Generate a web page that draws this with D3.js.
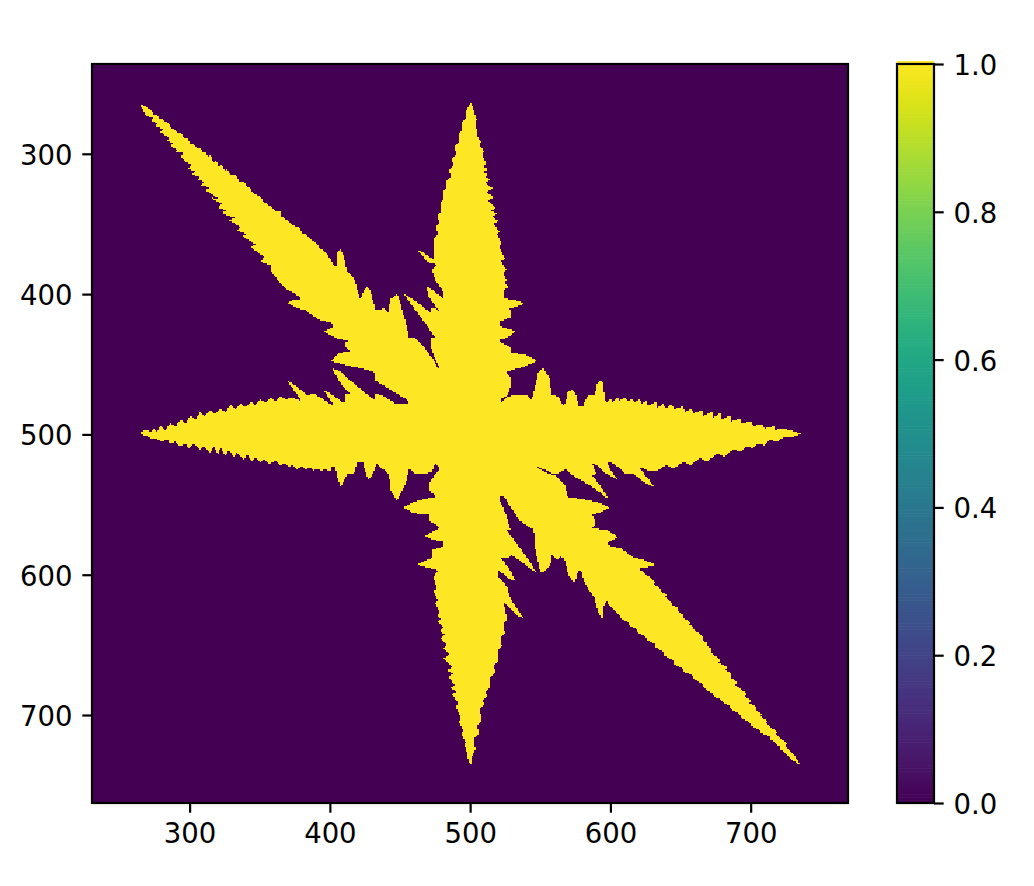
<!DOCTYPE html>
<meta charset="utf-8">
<style>
  body { margin: 0; background: #fff; }
  text { font-family: "DejaVu Sans"; }
</style>
<script src="https://d3js.org/d3.v7.min.js"></script>
<svg id="chart" width="1034" height="886"></svg>
<script>
// ticks
var xTicks = [300, 400, 500, 600, 700];
var yTicks = [300, 400, 500, 600, 700];
var cbarTicks = [0, 0.2, 0.4, 0.6, 0.8, 1];
var cellValues = [0, 1]; // background cells and crystal cells

// crystal outline in image coordinates, clockwise from the NW tip
var nwArmUpper = [[264,264],[268,266],[273,269],[274,271.5],[277,272],[278,274.5],[281.5,275.5],[282,277],[285,278],[286,280.5],[290,283.5],[291,284.5],[294.5,285.5],[296,288.5],[299,289],[300,292.5],[304,294],[306,296.5],[308,295.5],[309,299.5],[311,298.5],[313,302.5],[315,301],[317,306.5],[319,304],[321,310],[323,308],[325,312.5],[327,311],[329,315.5],[333,315],[335,319.5],[339,320.5],[341,323.5],[344,325],[345,328],[350.5,331],[353,334.5],[359,338],[362,341],[365,341.5],[365,344.5],[371,348],[373,350.5],[379,353],[380,356.5],[384,358],[386,360.5],[391,364.5],[393,367.5],[397,370],[400.5,375],[403,380]];
var nnwLobes = [[405,379.5],[405,370],[407.5,368],[409.5,372],[412,383],[417,388],[420,398.5],[422,404],[424,397.5],[426.5,394.5],[429,398],[432.5,411],[435,411],[438.5,410],[442,413],[442.7,404],[448,400],[450,405.5],[455.5,425.5],[456,431.5],[461,431.5],[467,437.5],[474,447],[479,456],[478,452],[475,446],[472,437.5],[472,431],[475,431],[469,422],[460,410],[452.7,400],[455,401],[462,405.5],[472,413.5],[472,410],[475,410],[479,413],[476.5,410],[470.5,402],[468.5,394.5],[471.6,396],[480.8,403],[480.8,398],[475,390],[473,382.7],[476.5,379],[469.4,377],[462,368],[466,369.7],[474,375.6],[474,367.5]];
var nArmLeft = [[474.5,360],[477,357],[475.5,352],[478,349],[477,344],[479.5,341],[479,335],[481.5,332],[481,327],[483.5,324],[483,319],[486,316],[485,311],[488,308],[487,303],[490,300],[489,295],[492,292],[491.5,286],[494,283],[494,278],[496.5,275],[497,270],[498.5,267],[500,263.5]];
var nArmRight = [[501.5,266],[503,271],[505,276],[503.5,277],[505,284],[504.4,286.6],[507.7,291.4],[506.8,293.8],[510,298.5],[508.4,301],[511.5,307],[509,309],[513,311],[509.6,313],[513,315],[510.5,317],[515,318],[510.8,321],[516.3,324.7],[511.5,327],[516.8,331],[512.5,333],[518.7,339],[514.4,340.7],[519.6,342.6],[515.6,344.5],[520.3,348],[516.8,349.7],[521,355.7],[518.7,357],[522.7,364],[520.6,366.4],[525,374.7],[522.2,376.4],[525.8,383],[523.4,385],[526.3,390],[524,392],[527.5,395],[524,397.4],[524,403]];
var neLobes = [[533.4,404.5],[538.7,406.9],[532.2,409],[527.5,410.5],[529,411.3],[529,416.6],[520.6,419.7],[520.6,423],[526.5,424.5],[532.5,426.4],[526.5,431],[520.6,432.8],[523,435],[529,438],[529,442.3],[538.4,442.8],[548,447.8],[538.4,451.8],[525.3,455.4],[529,459],[529,466],[526.5,472],[521.7,474.4],[521.7,478.5],[526,473],[534.5,471.5],[540.5,472],[544,475.5],[545.3,469.5],[548.8,455.3],[552,452],[557,461.2],[558,472],[563,472.7],[566,479],[567.9,478],[569.5,469.5],[572.6,468],[575.7,472],[577.4,480.3],[580.5,480.3],[582,475.5],[584.5,472],[589,471.5],[590.5,463.6],[593.6,461.2],[595.3,464.8],[595.7,475.5],[597.6,477]];
var eArmUpper = [[600.5,474.3],[601.5,477],[605.3,473],[606,476],[610.7,473.6],[612,476.5],[616,474.3],[617,477.5],[621,474.8],[622,478],[626,476],[626.5,479.5],[632.6,476.7],[633.3,481],[638,478],[639,481.5],[644,478.4],[645,482],[652,480],[653,484],[658,481.5],[659,485],[665.5,482.7],[666,487],[672.6,483.8],[673.3,488],[678.6,484.5],[679.3,489.5],[685.7,486.2],[686,491],[692.9,488.6],[693.3,492.2],[701,490.5],[701.6,494],[708.3,492.7],[709.5,495.8],[716.7,494],[717.2,497],[722.7,495.8],[728.6,497],[736.4,499.8]];
var eArmLower = [[728.6,502.5],[724,501.5],[719,505.3],[714,504],[709.5,507.7],[705,506.5],[702,510],[697,508.5],[692.9,512.4],[688,510.5],[681,516],[676,513.5],[669,519.6],[664,517],[657,522],[652,519.5],[645,524.3],[640,522],[633.3,526],[626,525.5],[620,523]];
var eseLobes = [[628.6,533.8],[631.7,537.9],[623.8,533.8],[617.2,528.4],[610.7,527.9],[606,523.6],[600,520],[597.6,520],[600,525.5],[605.5,532.2],[596.4,527.4],[590.5,522],[586.9,520.8],[590,528.4],[586.4,528.4],[591.7,535],[599.5,547],[590.5,539.8],[583.3,535],[573.8,529.8],[568.6,525],[560.7,528.4],[553.6,525.5],[544,521.2],[552.5,526.5],[562,530],[568.4,537.2],[568.7,544.3],[583.4,546.7],[593,549],[599.6,552],[593,555.8],[587,557.4],[589.4,561],[589.4,563.9],[587,567],[597.7,568],[605.3,573.4],[599,576.5],[597.7,578.9],[607.2,581.2],[616.8,587.7],[623.9,589.6],[632.2,593],[626.3,594.8],[620.3,595.5]];
var seArmUpper = [[626,600.3],[632,605],[631,606.5],[636.8,611],[635.5,612],[640,614],[639,615.5],[644,620],[643,621],[648.7,624],[647.5,625.5],[652.3,629],[651.3,630.5],[657,634],[656,635.5],[659.4,637],[658.5,638.5],[666.6,644.5],[665,646],[669.5,649],[668.5,650.5],[672.5,653],[671.5,655],[678.5,661],[677,662.5],[683.2,665.5],[682,667.5],[686.5,671],[685.5,673],[690.4,676.5],[689,678.5],[697.5,685],[696,686.5],[700.5,690],[699,691.5],[704.7,694.5],[703.5,696],[708,699.5],[707,701],[711.8,704],[711,706],[719,712.5],[718,714],[726,720.5],[725,722],[730,727],[736,736]];
var seArmLower = [[728.5,731.5],[727.5,729.5],[721.3,724.5],[720.8,722.5],[714.2,717.5],[713.8,715.5],[707,712.5],[706.5,710.5],[700,707.5],[699.5,705.5],[692.8,701.5],[692.3,699.5],[685.6,695.5],[685.2,693.5],[679.7,690.7],[679.2,688.7],[673.7,687],[673.2,684.5],[666.6,681],[666.2,678.5],[659.4,674],[659,671.8],[652.3,669.3],[652,667],[645,663.4],[644.6,661],[638,657.4],[637.6,655],[632,651.5],[631.6,649.3],[626,646.7],[625.6,644.5],[619,640.7],[618.6,638.5],[613,636],[612.6,634],[607,631.2],[606.5,628.5],[601,624],[597.5,619.3]];
var sseLobes = [[595.6,620.5],[594.7,631.2],[593.5,631.7],[590.4,624],[588.5,615.8],[584.4,611],[580.9,603.8],[579.7,598],[577.3,596.7],[574.9,604.6],[573.2,605],[570.1,600.3],[567,588.4],[564.7,587.2],[562,589],[558.4,586],[557.3,593],[552.5,598.6],[550,598],[546.5,582.4],[545.3,568],[535.8,562],[528.7,551.5],[525,545.5],[521.5,543],[521,546.7],[525.8,557.4],[528.7,568],[525.6,568],[532.2,576.5],[539.4,586],[547.7,599],[539.4,593],[528.7,585.3],[528.2,588.4],[522.7,587.7],[521,586.7],[529.4,598],[532.2,604.6],[528.7,603.4],[520.3,596.7],[520.3,601.5],[526.3,608.6],[528.2,616],[532,622],[538.2,631.2],[533.4,628.9],[528.7,624],[525,620.5],[523.9,620]];
var sArmRight = [[526.3,632],[523.5,635],[525,641.8],[522,645],[522.7,651.3],[519.5,654.5],[520.3,660.8],[517,664],[518,669],[514.5,673],[514.4,679.8],[511,683],[512,687],[508.5,690],[510.8,691.8],[507,696],[508.4,703.7],[505,707],[506,713],[503,717],[503.7,725],[501.5,729],[500.6,735.8]];
var sArmLeft = [[498.9,733.4],[498,727],[496,721.5],[497,719.5],[493.7,713],[495.3,711],[491.8,704.8],[493.5,702.5],[489.4,694],[491.8,692],[487,685],[490.5,683],[485.8,681],[489,678.5],[484.6,672.7],[488,670.5],[483.4,668],[487,665.5],[481,659.6],[485,657],[481,652.5],[483.5,650],[478.7,645.3],[482,642.5],[478.7,640.6],[481,637.5],[476.8,633.4],[479.5,631],[476.3,629.4],[478.5,626.5],[475.1,620.8],[477.5,618.5],[473.9,612],[476.3,610]];
var swLobes = [[473.9,601.5],[477.5,596.7],[471.5,595.5],[462,593],[469,589.6],[472.7,588.4],[472.7,582.4],[481,580],[481,576.5],[472.7,574.8],[468,572.4],[478.7,566.2],[471.5,562.2],[471.5,557.4],[459.6,556.2],[452.5,552],[459.6,548],[475.8,544.3],[471.5,540.8],[471.5,533.6],[473.9,530],[478.7,524.8],[475.1,520.5],[473,526.7],[466,528.3],[460,527.9],[456.5,524.3],[454,535],[448,547.4],[443.4,539.8],[442,527.9],[435,523],[433.4,520.7],[430.3,529],[427,532.1],[424.3,523],[423.8,519.5],[419.5,519.5],[417.2,527.9],[412.4,527.9],[407.6,537.9],[405.3,530.2],[404,523.1]];
var wArmLower = [[401.7,523],[400,526.7],[395.7,524.3],[394.5,526.7],[391,524.3],[388.6,526.2],[386.2,523.6],[382.6,525.5],[380.3,522.6],[376.7,525],[373.1,521.2],[370.7,523.6],[367.2,520.2],[364.8,522.6],[361.2,518.8],[356.5,521.2],[352.9,517.1],[350.5,520.2],[346.9,516],[344.5,519.5],[341,514.8],[338.6,517.9],[333.8,513.1],[331.5,516.4],[327.9,510.7],[325.5,515.5],[321.9,509.3],[320.7,514.8],[317.2,508.3],[314.8,513.1],[310,508.3],[307.6,510.7],[302.9,506.9],[299.3,510],[296.9,506.4],[293.4,508.3],[289.8,505.2],[286.2,506.4],[283.8,503.6],[280.3,505.2],[276.7,502.9],[273.1,502.9],[269,501.2],[264,499.3]];
var wArmUpper = [[267,497.5],[269.5,496.4],[272,498.5],[274.3,495.7],[277,498],[279,494],[283,497],[286.2,491.4],[290,494.5],[293.4,489.3],[297,492.5],[300.5,486.2],[304,489.5],[307.6,483.8],[311,487],[314.8,482.6],[318,485.5],[321.9,481.4],[325.5,484],[329,479],[332.5,482],[336.2,477.9],[340,480.5],[343.4,476.7],[347,479],[350.5,475],[354,477.5],[357.6,473.6],[361,476],[364.8,473.1],[369,475],[373.1,473.6],[380.3,476.7]];
var wnwLobes = [[374.3,468.3],[368.8,461.2],[376.7,466],[383.8,471.9],[388.6,470.7],[396.2,475.5],[403,480],[399.5,474],[395.3,467.9],[402.9,472.6],[410.5,477.9],[410.7,470.7],[414.3,470.7],[410,467.1],[405.3,460],[401.7,452.9],[407.6,455.2],[417.2,464],[431.9,475.5],[431.9,470.7],[437.4,471.9],[446.9,477.9],[456.5,477.9],[455.3,475.5],[441,467.1],[431.9,461.2],[431.5,455.2],[400.5,448],[406.3,441.8],[414.1,441.1],[411,437.5],[411,434],[413.9,433.5],[405,431.6],[395.6,426.8],[402.7,423.2],[401.5,420.4],[393.2,418.5],[387.2,414.9],[382.5,411.3],[376.5,409.7],[369.4,406.1],[374.1,404.2],[380,403.5],[375.3,399.4],[369.4,397],[364.6,392.3]];
var nwArmLower = [[361.2,388],[357.6,383],[358.8,379.5],[350.5,377],[352.9,373.5],[343.8,366.4],[346.9,364.5],[337.4,358.8],[340.5,356.9],[333.8,354.5],[336.2,352],[327.9,347.4],[332.6,345.5],[323.1,342.6],[326.2,340.2],[320.7,338.3],[323.1,335.5],[314.8,331.2],[320.7,331.9],[311.2,325.9],[314.8,324.3],[307.6,322.4],[310,320],[304.8,318.3],[308.8,316.9],[301,314.5],[304.8,312.4],[298.1,310.5],[301.7,308],[294.5,303.8],[298.1,305],[292.9,302.1],[295.7,299.7],[289.8,298.5],[291.5,296.9],[286.2,294.5],[288.6,292.6],[283.4,290.7],[285.7,288.5],[278.6,284.3],[281.5,282.6],[275.5,280.2],[277.9,278.3],[272,276.4],[274.3,274.7],[269,272.4],[266,267.6]];

var outline = [].concat(nwArmUpper, nnwLobes, nArmLeft, nArmRight, neLobes, eArmUpper, eArmLower, eseLobes,
    seArmUpper, seArmLower, sseLobes, sArmRight, sArmLeft, swLobes, wArmLower, wArmUpper, wnwLobes, nwArmLower);

var svg = d3.select("#chart");

var x = d3.scaleLinear().domain([230.4, 769.4]).range([92, 848]);
var y = d3.scaleLinear().domain([762.7, 236]).range([803, 64]);
var color = d3.scaleSequential(d3.interpolateViridis).domain([0, 1]);

svg.append("rect")
    .attr("x", x(x.domain()[0]))
    .attr("y", y(y.domain()[1]))
    .attr("width", x(x.domain()[1]) - x(x.domain()[0]))
    .attr("height", y(y.domain()[0]) - y(y.domain()[1]))
    .attr("fill", color(cellValues[0]));

// the picture is a grid of unit cells, so turn the outline into runs of filled cells per row
var gridLeft = 250, gridTop = 250, gridSize = 500;
var canvas = document.createElement("canvas");
canvas.width = gridSize;
canvas.height = gridSize;
var ctx = canvas.getContext("2d");
var gridLine = d3.line()
    .x(function(d) { return d[0] - gridLeft; })
    .y(function(d) { return d[1] - gridTop; })
    .context(ctx);
ctx.beginPath();
gridLine(outline);
ctx.closePath();
ctx.fill();
var alpha = ctx.getImageData(0, 0, gridSize, gridSize).data;

var runs = [];
for (var j = 0; j < gridSize; j++) {
    var start = -1;
    for (var i = 0; i <= gridSize; i++) {
        var on = i < gridSize && alpha[(j * gridSize + i) * 4 + 3] >= 128;
        if (on && start < 0) start = i;
        if (!on && start >= 0) {
            runs.push({ row: j + gridTop, from: start + gridLeft, to: i + gridLeft });
            start = -1;
        }
    }
}

svg.append("g")
    .attr("shape-rendering", "crispEdges")
    .selectAll("rect")
    .data(runs)
    .enter()
    .append("rect")
    .attr("x", function(d) { return x(d.from); })
    .attr("width", function(d) { return x(d.to) - x(d.from); })
    .attr("y", function(d) { return y(d.row); })
    .attr("height", function(d) { return y(d.row + 1) - y(d.row); })
    .attr("fill", color(cellValues[1]));

// axes
function styleAxis(g) {
    g.selectAll("line").attr("stroke", "#000").attr("stroke-width", 2.2);
    g.selectAll("text").attr("fill", "#000").style("font-size", "27.5px").style("font-family", "DejaVu Sans");
    g.select(".domain").remove();
}

svg.append("g")
    .attr("transform", "translate(0,803)")
    .call(d3.axisBottom(x).tickValues(xTicks).tickSize(9.7).tickPadding(10.5).tickFormat(d3.format("d")))
    .call(styleAxis);

svg.append("g")
    .attr("transform", "translate(92,0)")
    .call(d3.axisLeft(y).tickValues(yTicks).tickSize(9.7).tickPadding(9.7).tickFormat(d3.format("d")))
    .call(styleAxis)
    .selectAll("text").attr("dy", "0.38em");

svg.append("rect")
    .attr("x", 92).attr("y", 64).attr("width", 756).attr("height", 739)
    .attr("fill", "none").attr("stroke", "#000").attr("stroke-width", 2.2);

// colorbar
var cbarY = d3.scaleLinear().domain([0, 1]).range([803, 64]);
var levels = d3.range(256).map(function(i) { return i / 255; });

svg.append("g").selectAll("rect")
    .data(levels)
    .enter()
    .append("rect")
    .attr("x", 897)
    .attr("width", 37)
    .attr("y", function(d) { return cbarY(d) - 739 / 255; })
    .attr("height", 739 / 255 + 0.6)
    .attr("fill", function(d) { return color(d); });

svg.append("g")
    .attr("transform", "translate(934,0)")
    .call(d3.axisRight(cbarY).tickValues(cbarTicks).tickSize(9.7).tickPadding(9.7).tickFormat(d3.format(".1f")))
    .call(styleAxis)
    .selectAll("text").attr("dy", "0.38em");

svg.append("rect")
    .attr("x", 897).attr("y", 64).attr("width", 37).attr("height", 739)
    .attr("fill", "none").attr("stroke", "#000").attr("stroke-width", 2.2);
</script>
